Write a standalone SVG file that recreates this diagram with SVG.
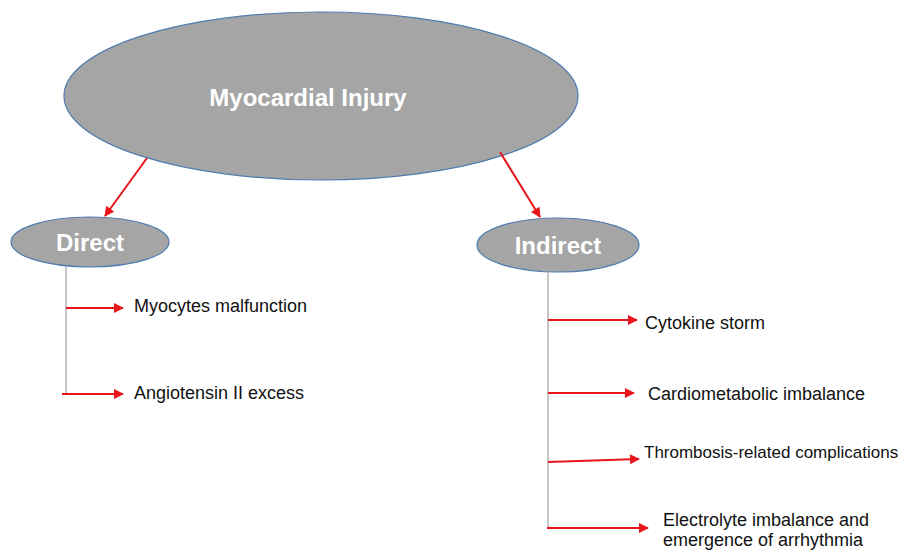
<svg xmlns="http://www.w3.org/2000/svg" width="911" height="550" viewBox="0 0 911 550">
<style>
.node{fill:#a5a5a5;stroke:#4f7bb0;stroke-width:1.2}
.ntxt{fill:#ffffff;font-family:"Liberation Sans",Arial,sans-serif;font-weight:bold;text-anchor:middle;font-size:24px}
.lbl{fill:#111111;font-family:"Liberation Sans",Arial,sans-serif;font-size:18px}
.lbl.sm{font-size:17px}
.red{stroke:#e8161b;stroke-width:2;fill:none;marker-end:url(#ah)}
.trunk{stroke:#b4b4b4;stroke-width:1.5;fill:none}
</style>
<defs>
<marker id="ah" viewBox="0 0 10 10" refX="9" refY="5" markerWidth="5.5" markerHeight="5" orient="auto" markerUnits="strokeWidth">
<path d="M0,0 L10,5 L0,10 z" fill="#e8161b"/>
</marker>
</defs>
<rect width="911" height="550" fill="#ffffff"/>
<g id="myocardial-injury">
<ellipse class="node" cx="321" cy="96" rx="257" ry="84"/>
<text class="ntxt" x="308" y="106">Myocardial Injury</text>
</g>
<g id="direct">
<ellipse class="node" cx="90" cy="242" rx="79" ry="25"/>
<text class="ntxt" x="90" y="251">Direct</text>
</g>
<g id="indirect">
<ellipse class="node" cx="558" cy="245" rx="81" ry="27"/>
<text class="ntxt" x="558" y="254">Indirect</text>
</g>
<g id="labels">
<text class="lbl" x="134" y="312">Myocytes malfunction</text>
<text class="lbl" x="134" y="399">Angiotensin II excess</text>
<text class="lbl" x="645" y="329">Cytokine storm</text>
<text class="lbl" x="648" y="400">Cardiometabolic imbalance</text>
<text class="lbl sm" x="644" y="458">Thrombosis-related complications</text>
<text class="lbl" x="663" y="526">Electrolyte imbalance and</text>
<text class="lbl" x="663" y="546">emergence of arrhythmia</text>
</g>
<g id="connectors">
<line class="red" x1="147" y1="158" x2="105" y2="216"/>
<line class="red" x1="500" y1="152" x2="540" y2="217"/>
<line class="trunk" x1="66" y1="267" x2="66" y2="395"/>
<line class="red" x1="66" y1="308" x2="123" y2="308"/>
<line class="red" x1="62" y1="394" x2="123" y2="394"/>
<line class="trunk" x1="548" y1="272" x2="548" y2="528"/>
<line class="red" x1="548" y1="320" x2="637" y2="320"/>
<line class="red" x1="548" y1="393" x2="634" y2="393"/>
<line class="red" x1="548" y1="462" x2="639" y2="459"/>
<line class="red" x1="547" y1="528" x2="648" y2="528"/>
</g>
</svg>
